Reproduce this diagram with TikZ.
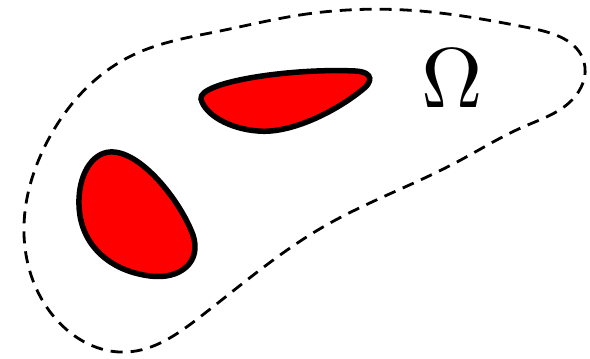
\documentclass[tikz,border=0pt]{standalone}
\usepackage{amsmath}
\usepackage{xcolor}
\usepackage{tikz}
\usetikzlibrary{hobby}

\begin{document}
\begin{tikzpicture}[
      x=1pt, y=-1pt,
      % Reusable styles for the region and the holes
      region/.style={
        draw=black,
        line width=2.8pt,
        dash pattern=on 12pt off 8pt
      },
      hole/.style={
        draw=black,
        fill=red,
        line width=5.5pt
      }
    ]
    \useasboundingbox (0,0) rectangle (590,359);

    % The dashed outer region
    \draw[region, use Hobby shortcut, closed=true]
      (300,15) .. (420,11) .. (530,28) .. (584,62) .. (572,100)
      .. (523,127) .. (457,162) .. (323,227) .. (200,317) .. (127,352)
      .. (55,318) .. (24,225) .. (45,146) .. (133,55) .. (220,31);

    % Left hole
    \draw[hole] (110,152) .. controls (140,150) and (180,200) .. (193,235)
      .. controls (202,262) and (180,280) .. (150,276)
      .. controls (110,271) and (80,245) .. (79,205)
      .. controls (78,175) and (92,153) .. cycle;

    % Upper hole
    \draw[hole] (201,99) .. controls (198,82) and (290,68) .. (355,71)
      .. controls (375,72) and (372,83) .. (362,90)
      .. controls (335,112) and (290,134) .. (258,131)
      .. controls (230,129) and (205,115) .. cycle;

    % Region label
    \node[scale=8.5, transform shape] (omega) at (452,78) {$\Omega$};
  \end{tikzpicture}
\end{document}
